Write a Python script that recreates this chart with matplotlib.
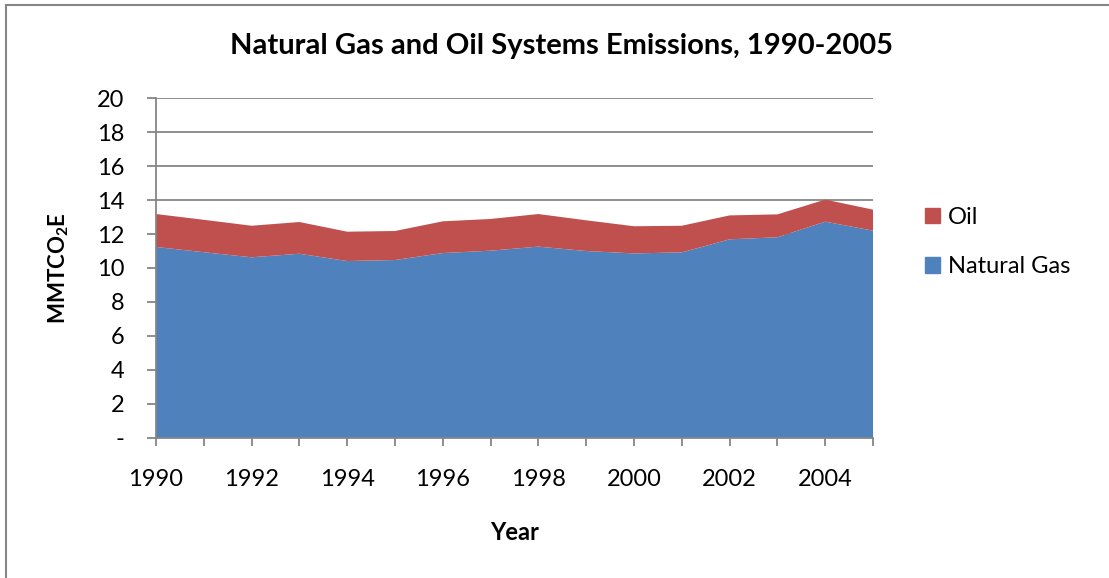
import matplotlib
matplotlib.use("Agg")
import matplotlib.pyplot as plt
from matplotlib.lines import Line2D
from matplotlib.patches import Patch

plt.rcParams.update({
    "font.family": ["Lato", "DejaVu Sans"],
    "mathtext.fontset": "custom",
    "mathtext.rm": "Lato:bold",
    "mathtext.it": "Lato:bold",
    "mathtext.bf": "Lato:bold",
})

# values (MMTCO2E)
years = list(range(1990, 2006))
natural_gas = [11.24, 10.93, 10.63, 10.84, 10.41, 10.47, 10.88, 11.02,
               11.26, 11.00, 10.86, 10.92, 11.69, 11.81, 12.73, 12.20]
total = [13.18, 12.84, 12.49, 12.71, 12.14, 12.18, 12.75, 12.89,
         13.18, 12.81, 12.46, 12.49, 13.10, 13.16, 14.03, 13.44]
oil = [t - g for t, g in zip(total, natural_gas)]

y_ticks = [0, 2, 4, 6, 8, 10, 12, 14, 16, 18, 20]
y_ticklabels = ["-", "2", "4", "6", "8", "10", "12", "14", "16", "18", "20"]
x_labels = [1990, 1992, 1994, 1996, 1998, 2000, 2002, 2004]

gas_color = "#4F81BD"
oil_color = "#C0504D"
axis_gray = "#868686"

W, H = 1109, 578
fig = plt.figure(figsize=(W / 100, H / 100), dpi=100)
ax = fig.add_axes([156 / W, 1 - 437.7 / H, (873 - 156) / W, (437.7 - 98.3) / H])

ax.stackplot(years, natural_gas, oil, colors=[gas_color, oil_color], linewidth=0)

ax.set_xlim(1990, 2005)
ax.set_ylim(0, 20)
ax.set_yticks(y_ticks)
ax.set_yticklabels(y_ticklabels)
ax.set_xticks(x_labels)
ax.set_xticklabels([str(y) for y in x_labels])
ax.set_xticks(years, minor=True)

ax.grid(axis="y", color=axis_gray, lw=1.3)
ax.set_axisbelow(True)
for s in ["top", "right"]:
    ax.spines[s].set_visible(False)
for s in ["left", "bottom"]:
    ax.spines[s].set_color(axis_gray)
    ax.spines[s].set_linewidth(1.3)

ax.tick_params(axis="y", direction="out", length=6.5, width=1.3, color=axis_gray,
               labelsize=17, pad=16)
ax.tick_params(axis="x", which="both", direction="out", length=5.5, width=1.3,
               color=axis_gray, labelsize=17, pad=17)

ax.set_xlabel("Year", fontsize=17, fontweight="bold", labelpad=0)
ax.xaxis.set_label_coords(0.5, (437.7 - 532) / (437.7 - 98.3))
ax.xaxis.label.set_va("center")

fig.text(59 / W, 1 - 268 / H, r"MMTCO$_2$E", rotation=90, fontsize=16,
         fontweight="bold", ha="center", va="center")

fig.text(562 / W, 1 - 46 / H, "Natural Gas and Oil Systems Emissions, 1990-2005",
         fontsize=21, fontweight="bold", ha="center", va="center")

handles = [Patch(color=oil_color, label="Oil"),
           Patch(color=gas_color, label="Natural Gas")]
fig.legend(handles=handles, loc="center left", bbox_to_anchor=(925 / W, 1 - 242 / H),
           frameon=False, fontsize=17, handlelength=0.64, handleheight=0.64,
           handletextpad=0.33, labelspacing=1.2, borderpad=0, borderaxespad=0)

# outer chart border
fig.add_artist(Line2D([6 / W, 6 / W], [0, 1 - 5 / H], color=axis_gray, lw=1.5))
fig.add_artist(Line2D([6 / W, 1], [1 - 5 / H, 1 - 5 / H], color=axis_gray, lw=1.5))

fig.savefig("out.png", dpi=100)
